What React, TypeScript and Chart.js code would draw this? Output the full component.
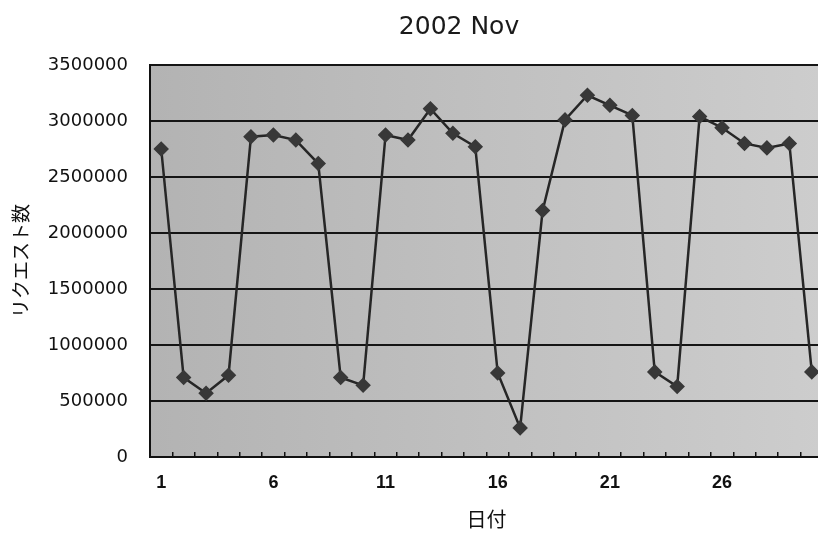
import React, { useEffect, useRef } from "react";
import { Chart, registerables } from "chart.js";

Chart.register(...registerables);

const days: string[] = Array.from({ length: 30 }, (_, i) => String(i + 1));
const requests: number[] = [
  2750000, 710000, 570000, 730000, 2860000, 2875000, 2830000, 2620000, 710000, 640000,
  2875000, 2830000, 3110000, 2890000, 2770000, 750000, 260000, 2200000, 3010000, 3230000,
  3140000, 3050000, 760000, 630000, 3040000, 2940000, 2800000, 2760000, 2800000, 760000,
];
const titleText = "2002 Nov";
const yTitle = "リクエスト数";
const xTitle = "日付";
const yMin = 0;
const yMax = 3500000;
const yStep = 500000;

const plotBg = {
  id: "plotBg",
  beforeDraw(chart: any) {
    const { ctx, chartArea } = chart;
    if (!chartArea) return;
    const g = ctx.createLinearGradient(chartArea.left, 0, chartArea.right, 0);
    g.addColorStop(0, "#b3b3b3");
    g.addColorStop(1, "#cdcdcd");
    ctx.save();
    ctx.fillStyle = g;
    ctx.fillRect(chartArea.left, chartArea.top, chartArea.right - chartArea.left, chartArea.bottom - chartArea.top);
    ctx.restore();
  },
};

export default function App() {
  const ref = useRef<HTMLCanvasElement | null>(null);
  useEffect(() => {
    if (!ref.current) return;
    const chart = new Chart(ref.current, {
      type: "line",
      data: {
        labels: days,
        datasets: [
          {
            data: requests,
            borderColor: "#262626",
            borderWidth: 2.5,
            pointStyle: "rectRot",
            pointRadius: 6,
            pointBackgroundColor: "#383838",
            pointBorderColor: "#383838",
            tension: 0,
          },
        ],
      },
      options: {
        animation: false,
        responsive: true,
        maintainAspectRatio: false,
        layout: { padding: 0 },
        plugins: {
          legend: { display: false },
          tooltip: { enabled: false },
          title: {
            display: true,
            text: titleText,
            color: "#1a1a1a",
            font: { family: "DejaVu Sans", size: 25, weight: "normal" },
            padding: { top: 12, bottom: 23 },
          },
        },
        scales: {
          x: {
            type: "category",
            offset: true,
            grid: {
              display: true,
              offset: true,
              drawOnChartArea: false,
              drawTicks: true,
              tickLength: -5,
              color: "#111",
              lineWidth: 1.5,
            },
            border: { display: true, color: "#111", width: 2 },
            ticks: {
              autoSkip: false,
              maxRotation: 0,
              padding: 20,
              color: "#111",
              font: { family: "Liberation Sans", size: 18, weight: "bold" },
              callback: (_v: any, i: number) => (i % 5 === 0 ? days[i] : ""),
            },
            title: {
              display: true,
              text: xTitle,
              color: "#111",
              font: { family: "Noto Sans CJK JP", size: 20 },
              padding: { top: 0, bottom: 2 },
            },
            afterFit: (s: any) => {
              s.height = 76;
            },
          },
          y: {
            min: yMin,
            max: yMax,
            position: "left",
            grid: { color: "#151515", lineWidth: 2, drawTicks: false },
            border: { display: true, color: "#111", width: 2 },
            ticks: {
              stepSize: yStep,
              padding: 22,
              color: "#111",
              font: { family: "DejaVu Sans", size: 18 },
              callback: (v: any) => String(v),
            },
            title: {
              display: true,
              text: yTitle,
              color: "#111",
              font: { family: "Noto Sans CJK JP", size: 19 },
              padding: { top: 9, bottom: 0 },
            },
            afterFit: (s: any) => {
              s.width = 150;
            },
          },
          yR: {
            type: "linear",
            position: "right",
            display: true,
            grid: { display: false },
            border: { display: false },
            ticks: { display: false },
            afterFit: (s: any) => {
              s.width = 95;
            },
          },
        },
      },
      plugins: [plotBg],
    });
    return () => chart.destroy();
  }, []);

  return (
    <div style={{ position: "absolute", left: 0, top: 0, width: 818, height: 533, overflow: "hidden", background: "#fff" }}>
      <div style={{ position: "relative", width: 918, height: 533 }}>
        <canvas ref={ref} />
      </div>
    </div>
  );
}
